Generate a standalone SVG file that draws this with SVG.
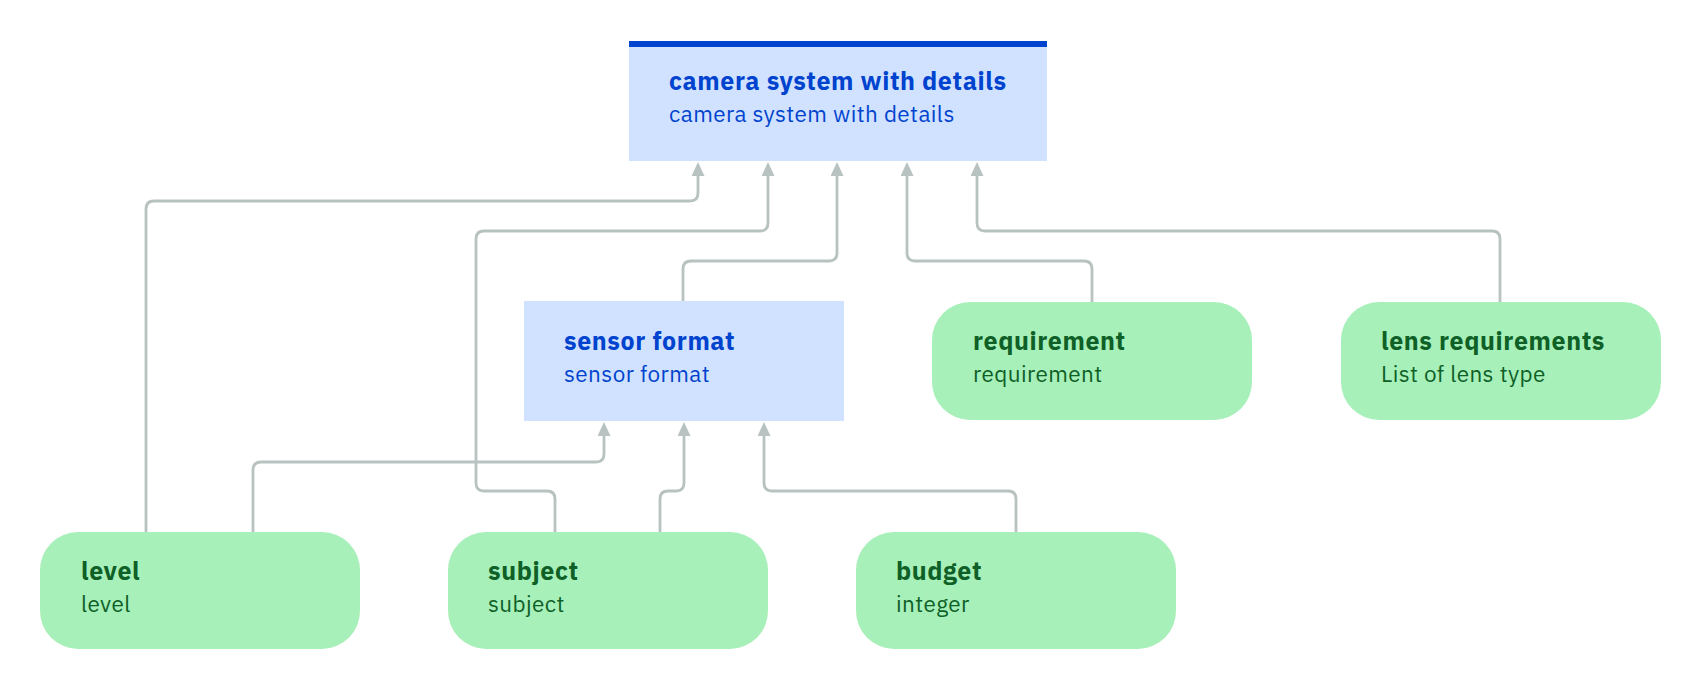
<svg xmlns="http://www.w3.org/2000/svg" width="1700" height="690" viewBox="0 0 1700 690">
<style>
.bg{fill:#ffffff}
.blue{fill:#d0e2ff}
.bar{fill:#0043ce}
.green{fill:#a7f0ba}
.tb{font-family:"IBM Plex Sans","Noto Sans","Open Sans",sans-serif;font-weight:700;font-size:25px;letter-spacing:0.6px}
.ts{font-family:"IBM Plex Sans","Noto Sans","Open Sans",sans-serif;font-weight:400;font-size:22.5px;letter-spacing:0.4px}
.bt{fill:#0043ce}
.gt{fill:#0e6027}
.edge{fill:none;stroke:#b8c3c1;stroke-width:2.8;marker-end:url(#arr)}
</style>
<defs>
<marker id="arr" viewBox="0 0 14 13" refX="0" refY="6.5" markerWidth="14" markerHeight="13" markerUnits="userSpaceOnUse" orient="auto">
<path d="M0,0 L14,6.5 L0,13 z" fill="#b8c3c1"/>
</marker>
</defs>
<rect class="bg" x="0" y="0" width="1700" height="690"/>
<g id="connectors">
<path class="edge" d="M146 532 V209 Q146 201 154 201 H690 Q698 201 698 193 V176"/>
<path class="edge" d="M555 532 V499 Q555 491 547 491 H484 Q476 491 476 483 V239 Q476 231 484 231 H760 Q768 231 768 223 V176"/>
<path class="edge" d="M683 301 V269 Q683 261 691 261 H829 Q837 261 837 253 V176"/>
<path class="edge" d="M1092 302 V269 Q1092 261 1084 261 H915 Q907 261 907 253 V176"/>
<path class="edge" d="M1500 302 V239 Q1500 231 1492 231 H985 Q977 231 977 223 V176"/>
<path class="edge" d="M253 532 V470 Q253 462 261 462 H596 Q604 462 604 454 V436"/>
<path class="edge" d="M660 532 V499 Q660 491 668 491 H676 Q684 491 684 483 V436"/>
<path class="edge" d="M1016 532 V499 Q1016 491 1008 491 H772 Q764 491 764 483 V436"/>
</g>
<g id="camera">
<rect class="blue" x="629" y="41" width="418" height="120"/>
<rect class="bar" x="629" y="41" width="418" height="6"/>
<text class="tb bt" x="669" y="90">camera system with details</text>
<text class="ts bt" x="669" y="122">camera system with details</text>
</g>
<g id="sensor">
<rect class="blue" x="524" y="301" width="320" height="120"/>
<text class="tb bt" x="564" y="350">sensor format</text>
<text class="ts bt" x="564" y="382">sensor format</text>
</g>
<g id="requirement">
<rect class="green" x="932" y="302" width="320" height="118" rx="38"/>
<text class="tb gt" x="973" y="350">requirement</text>
<text class="ts gt" x="973" y="382">requirement</text>
</g>
<g id="lens">
<rect class="green" x="1341" y="302" width="320" height="118" rx="38"/>
<text class="tb gt" x="1381" y="350">lens requirements</text>
<text class="ts gt" x="1381" y="382">List of lens type</text>
</g>
<g id="level">
<rect class="green" x="40" y="532" width="320" height="117" rx="38"/>
<text class="tb gt" x="81" y="580">level</text>
<text class="ts gt" x="81" y="612">level</text>
</g>
<g id="subject">
<rect class="green" x="448" y="532" width="320" height="117" rx="38"/>
<text class="tb gt" x="488" y="580">subject</text>
<text class="ts gt" x="488" y="612">subject</text>
</g>
<g id="budget">
<rect class="green" x="856" y="532" width="320" height="117" rx="38"/>
<text class="tb gt" x="896" y="580">budget</text>
<text class="ts gt" x="896" y="612">integer</text>
</g>
</svg>
